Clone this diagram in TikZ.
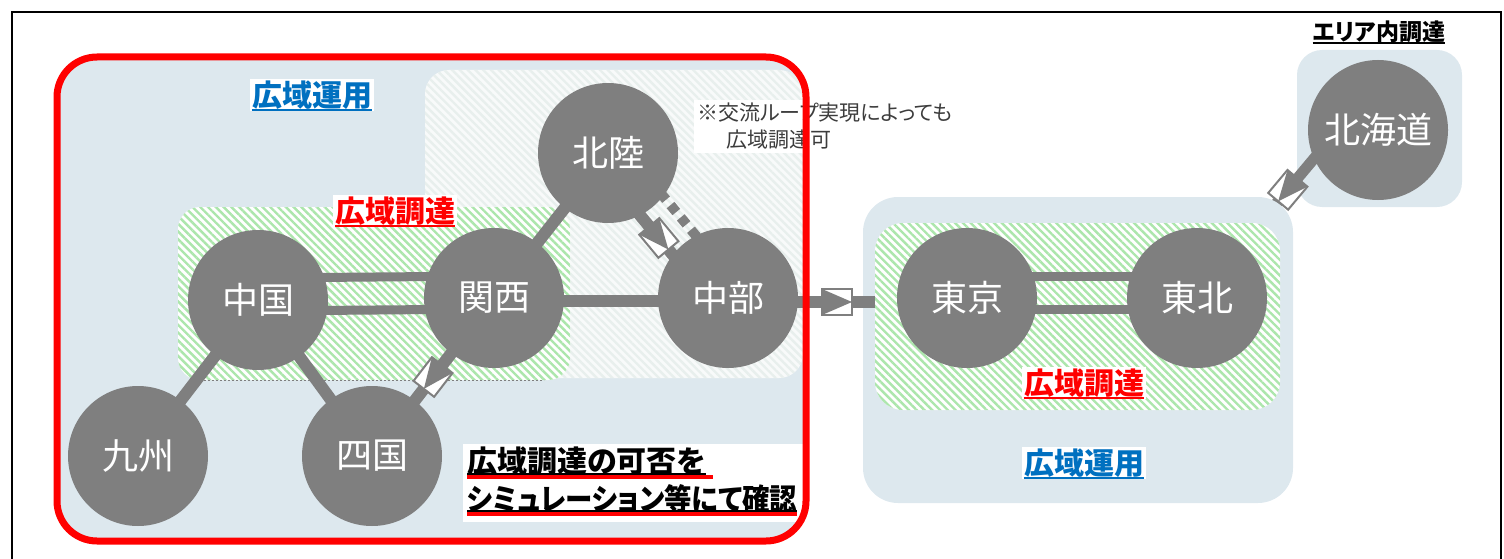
\documentclass[tikz,border=0pt]{standalone}
\usepackage{fontspec}
\setmainfont{Noto Sans CJK JP}[RawFeature=+palt]
\usetikzlibrary{calc,patterns.meta}
\definecolor{gcol}{RGB}{127,127,127}
\definecolor{bluebg}{RGB}{221,232,238}
\definecolor{hgreen}{RGB}{172,230,172}
\definecolor{hwhite}{RGB}{232,239,237}
\definecolor{lblue}{RGB}{0,112,192}
\definecolor{lred}{RGB}{255,0,0}
\definecolor{notecol}{RGB}{60,60,60}
\pgfdeclarelayer{lyA}
\pgfdeclarelayer{lyB}
\pgfdeclarelayer{lyC}
\pgfdeclarelayer{lyD}
\pgfdeclarelayer{lyE}
\pgfdeclarelayer{lyF}
\pgfsetlayers{lyA,lyB,lyC,lyD,lyE,lyF,main}
\tikzset{
  circ/.style={circle, fill=gcol, minimum size=140pt, inner sep=0pt, text=white,
    font=\fontsize{36}{36}\selectfont},
  conn/.style={draw=gcol, line width=12pt},
  dconn/.style={draw=gcol, line width=9pt},
  lab/.style={font=\bfseries\fontsize{30}{30}\selectfont, inner sep=2pt, fill=white},
  hatchG/.style={preaction={fill=white}, pattern={Lines[angle=-45,distance=5.5pt,line width=2.4pt]}, pattern color=hgreen},
  hatchW/.style={preaction={fill=white!70!hwhite}, pattern={Lines[angle=-45,distance=5.5pt,line width=2.4pt]}, pattern color=hwhite},
  convpos/.style={sloped, allow upside down},
  conv/.pic={
    \draw[fill=white, draw=gcol, line width=2pt] (-15,-13) rectangle (15,13);
    \fill[gcol] (-15,-13) -- (15,0) -- (-15,13) -- cycle;
  }
}
\begin{document}
\begin{tikzpicture}[x=1pt,y=-1pt]
\useasboundingbox (0,0) rectangle (1504,559);

% circles
\node[circ] (hokuriku) at (608,153) {北陸};
\node[circ] (chugoku) at (258,300) {中国};
\node[circ] (kansai) at (494,298) {関西};
\node[circ] (chubu) at (728,298) {中部};
\node[circ] (kyushu) at (138,456) {九州};
\node[circ] (shikoku) at (372,456) {四国};
\node[circ] (tokyo) at (967,298) {東京};
\node[circ] (tohoku) at (1197,298) {東北};
\node[circ] (hokkaido) at (1378,130) {北海道};

\begin{pgfonlayer}{lyA}
  \draw[line width=1.5pt] (12,570) -- (12,12) -- (1501,12) -- (1501,570);
  \fill[bluebg, rounded corners=40pt] (57,57) rectangle (806,541);
  \path[hatchW, rounded corners=24pt] (425,70) rectangle (803,378);
  \path[hatchG, rounded corners=22pt] (178,207) rectangle (570,380);
  \draw[gcol, line width=1pt, dash pattern=on 2pt off 2pt] (204,380) -- (544,380);
  \fill[bluebg, rounded corners=25pt] (1297,50) rectangle (1462,207);
\end{pgfonlayer}

\begin{pgfonlayer}{lyB}
  \draw[conn, line width=11pt] ($(hokkaido.center)+(-40,0)$) -- (tohoku.center);
\end{pgfonlayer}

\begin{pgfonlayer}{lyC}
  \fill[bluebg, rounded corners=35pt] (863,197) rectangle (1293,503);
\end{pgfonlayer}

\begin{pgfonlayer}{lyD}
  \draw[conn] ($(chubu.center)+(0,4)$) -- ($(tokyo.center)+(0,4)$);
\end{pgfonlayer}

\begin{pgfonlayer}{lyE}
  \path[hatchG, rounded corners=28pt] (875,223) rectangle (1280,410);
\end{pgfonlayer}

\begin{pgfonlayer}{lyF}
  \draw[dconn] ($(chugoku.center)+(0,-22)$) -- ($(kansai.center)+(0,-22)$);
  \draw[dconn] ($(chugoku.center)+(0,11)$) -- ($(kansai.center)+(0,11)$);
  \draw[conn] ($(kansai.center)+(0,3)$) -- ($(chubu.center)+(0,3)$);
  \draw[conn] (kansai.center) -- (hokuriku.center);
  \draw[conn] (chugoku.center) -- (kyushu.center);
  \draw[conn] (chugoku.center) -- (shikoku.center);
  \draw[conn] (kansai.center) -- (shikoku.center);
  \draw[conn] ($(hokuriku.center)!15pt!-90:(chubu.center)$) -- ($(chubu.center)!15pt!90:(hokuriku.center)$);
  \draw[gcol, line width=10pt, dash pattern=on 9pt off 7pt] ($(hokuriku.center)!15pt!90:(chubu.center)$) -- ($(chubu.center)!15pt!-90:(hokuriku.center)$);
  \draw[dconn] ($(tokyo.center)+(0,-22)$) -- ($(tohoku.center)+(0,-22)$);
  \draw[dconn] ($(tokyo.center)+(0,11)$) -- ($(tohoku.center)+(0,11)$);
  % converters
  \path (kansai.center) -- (shikoku.center) pic[pos=0.5, convpos]{conv};
  \path ($(hokuriku.center)!15pt!-90:(chubu.center)$) -- ($(chubu.center)!15pt!90:(hokuriku.center)$) pic[pos=0.52, convpos]{conv};
  \path ($(chubu.center)+(0,4)$) -- ($(tokyo.center)+(0,4)$) pic[pos=0.456, convpos]{conv};
  \path ($(hokkaido.center)+(-40,0)$) -- (tohoku.center) pic[pos=0.356, convpos]{conv};
\end{pgfonlayer}

% labels
\node[lab, text=lblue] (unyo1) at (312,95) {広域運用};
\draw[lblue, line width=2pt] ($(unyo1.south west)+(2,-2)$) -- ($(unyo1.south east)+(-2,-2)$);
\node[lab, text=lred] (chotatsu1) at (395,211) {広域調達};
\draw[lred, line width=2pt] ($(chotatsu1.south west)+(2,-2)$) -- ($(chotatsu1.south east)+(-2,-2)$);
\node[lab, text=lred] (chotatsu2) at (1084,383) {広域調達};
\draw[lred, line width=2pt] ($(chotatsu2.south west)+(2,-2)$) -- ($(chotatsu2.south east)+(-2,-2)$);
\node[lab, text=lblue] (unyo2) at (1084,463) {広域運用};
\draw[lblue, line width=2pt] ($(unyo2.south west)+(2,-2)$) -- ($(unyo2.south east)+(-2,-2)$);
\node[font=\bfseries\fontsize{23}{23}\selectfont, inner sep=1pt] (area) at (1379,32) {エリア内調達};
\draw[black, line width=1.5pt] ($(area.south west)+(1,-1)$) -- ($(area.south east)+(-1,-1)$);

\node[anchor=north west, fill=white, align=left, text=notecol, font=\fontsize{21}{27}\selectfont, inner sep=3pt] (note) at (694,100)
  {※交流ループ実現によっても\\\hspace*{29pt}広域調達可};

\fill[white] (463,444) rectangle (806,522);
\node[anchor=west, font=\bfseries\fontsize{30}{30}\selectfont, inner sep=0pt] (q1) at (467,461) {広域調達の可否を};
\node[anchor=west, font=\bfseries\fontsize{30}{30}\selectfont, inner sep=0pt] (q2) at (467,499) {\scalebox{0.915}[1]{シミュレーション等にて確認}};
\draw[black, line width=1.2pt] ($(q1.west)+(0,13)$) -- ($(q1.east)+(0,13)$);
\draw[lred, line width=4pt] ($(q1.west)+(0,16)$) -- ($(q1.east)+(7,16)$);
\draw[black, line width=1.2pt] ($(q2.west)+(0,12)$) -- ($(q2.east)+(0,12)$);
\draw[lred, line width=4pt] ($(q2.west)+(0,15)$) -- ($(q2.east)+(0,15)$);

% red frame
\draw[lred, line width=7pt, rounded corners=40pt] (57,57) rectangle (806,541);
\end{tikzpicture}
\end{document}
